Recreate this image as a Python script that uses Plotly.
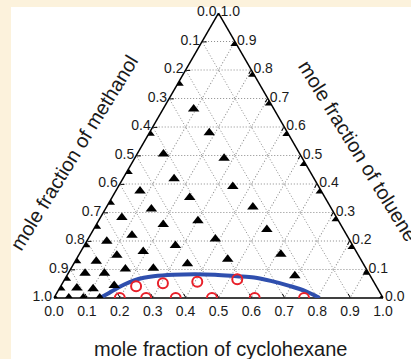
import plotly.graph_objects as go

W, H = 411, 359

# ---- data (mole fractions) ----
# black triangles: measured compositions
tri_methanol = [0.246, 0.422, 0.556, 0.664, 0.748, 0.813, 0.869, 0.931, 0.965, 1.000,
                0.000, 0.000, 0.000, 0.000, 0.000, 0.000, 0.000, 0.000, 0.000, 0.000, 0.000,
                0.955, 0.911, 0.861,
                0.244, 0.238, 0.415, 0.238, 0.426, 0.261, 0.551, 0.411, 0.236, 0.548,
                0.653, 0.427, 0.233, 0.539, 0.653, 0.406, 0.740, 0.539, 0.234, 0.404,
                0.648, 0.734, 0.807, 0.535, 0.229, 0.732, 0.863, 0.803, 0.913, 0.866,
                0.795, 0.646]
tri_toluene = [0.754, 0.578, 0.444, 0.336, 0.252, 0.187, 0.131, 0.069, 0.035, 0.000,
               1.000, 0.893, 0.785, 0.684, 0.577, 0.472, 0.375, 0.278, 0.181, 0.090, 0.000,
               0.000, 0.000, 0.000,
               0.663, 0.580, 0.506, 0.491, 0.418, 0.391, 0.375, 0.353, 0.319, 0.312,
               0.283, 0.271, 0.240, 0.258, 0.220, 0.207, 0.199, 0.184, 0.153, 0.136,
               0.163, 0.150, 0.129, 0.120, 0.078, 0.102, 0.087, 0.087, 0.035, 0.032,
               0.044, 0.104]
tri_cyclohexane = [0.000, 0.000, 0.000, 0.000, 0.000, 0.000, 0.000, 0.000, 0.000, 0.000,
                   0.000, 0.107, 0.215, 0.316, 0.423, 0.528, 0.625, 0.722, 0.819, 0.910, 1.000,
                   0.045, 0.089, 0.139,
                   0.093, 0.182, 0.080, 0.272, 0.156, 0.348, 0.074, 0.236, 0.445, 0.140,
                   0.065, 0.302, 0.527, 0.203, 0.127, 0.387, 0.061, 0.277, 0.613, 0.460,
                   0.190, 0.116, 0.064, 0.346, 0.693, 0.166, 0.051, 0.110, 0.052, 0.103,
                   0.161, 0.250]

# red open circles
circ_methanol = [0.80, 0.72, 0.63, 0.52, 0.39, 0.24, 0.730, 0.643, 0.536, 0.410]
circ_toluene = [0.00, 0.00, 0.00, 0.00, 0.00, 0.00, 0.041, 0.052, 0.057, 0.066]
circ_cyclohexane = [0.20, 0.28, 0.37, 0.48, 0.61, 0.76, 0.229, 0.305, 0.407, 0.524]

# blue binodal curve
curve_methanol = [0.8605, 0.8296, 0.8015, 0.7628, 0.7259, 0.6917, 0.6593, 0.5972,
                  0.5281, 0.4696, 0.4070, 0.3560, 0.3113, 0.2611, 0.2227, 0.1929]
curve_toluene = [0.0000, 0.0146, 0.0291, 0.0473, 0.0618, 0.0709, 0.0764, 0.0818,
                 0.0836, 0.0818, 0.0764, 0.0716, 0.0600, 0.0418, 0.0236, 0.0000]
curve_cyclohexane = [0.1395, 0.1559, 0.1694, 0.1899, 0.2123, 0.2374, 0.2643, 0.3210,
                     0.3883, 0.4486, 0.5166, 0.5724, 0.6287, 0.6971, 0.7537, 0.8071]

tick_vals = [0.0, 0.1, 0.2, 0.3, 0.4, 0.5, 0.6, 0.7, 0.8, 0.9, 1.0]
tick_text = ["1.0", "0.9", "0.8", "0.7", "0.6", "0.5", "0.4", "0.3", "0.2", "0.1", "0.0"]

title_left = "mole fraction of methanol"
title_right = "mole fraction of toluene"
title_bottom = "mole fraction of cyclohexane"

FONT = "Liberation Sans, Arial, sans-serif"

fig = go.Figure()
fig.add_trace(go.Scatterternary(
    a=curve_toluene, b=curve_methanol, c=curve_cyclohexane,
    mode="lines", line=dict(color="#2f4fae", width=4, shape="spline"),
    hoverinfo="skip"))
fig.add_trace(go.Scatterternary(
    a=tri_toluene, b=tri_methanol, c=tri_cyclohexane,
    mode="markers",
    marker=dict(symbol="triangle-up", size=10, color="black")))
fig.add_trace(go.Scatterternary(
    a=circ_toluene, b=circ_methanol, c=circ_cyclohexane,
    mode="markers",
    marker=dict(symbol="circle-open", size=10, color="#e8202a",
                line=dict(width=2, color="#e8202a"))))

axis_common = dict(
    tickvals=tick_vals, ticktext=tick_text,
    ticks="inside", ticklen=4, tickwidth=1, tickcolor="black",
    linecolor="black", linewidth=1.5,
    showgrid=True, gridcolor="#8a8a8a", gridwidth=1, griddash="1px,2px",
    tickfont=dict(family=FONT, size=14, color="#1a1a1a"),
    title=dict(text=""), layer="below traces", min=0,
)

# triangle geometry (pixels)
left, right, base_y, top_y = 54, 383, 298, 13

fig.update_layout(
    width=W, height=H,
    margin=dict(l=0, r=0, t=0, b=0),
    paper_bgcolor="#fcf2dc",
    showlegend=False,
    ternary=dict(
        sum=1,
        bgcolor="white",
        domain=dict(x=[left / W, right / W], y=[1 - base_y / H, 1 - top_y / H]),
        aaxis=axis_common, baxis=axis_common, caxis=axis_common,
    ),
    shapes=[dict(type="rect", xref="paper", yref="paper",
                 x0=11 / W, x1=1, y0=0, y1=1 - 7 / H,
                 fillcolor="white", line=dict(width=0), layer="below")],
    annotations=[
        dict(text=title_left, xref="paper", yref="paper",
             x=74 / W, y=1 - 153 / H, xanchor="center", yanchor="middle",
             showarrow=False, textangle=-58.4,
             font=dict(family=FONT, size=20, color="#1a1a1a")),
        dict(text=title_right, xref="paper", yref="paper",
             x=358 / W, y=1 - 151 / H, xanchor="center", yanchor="middle",
             showarrow=False, textangle=58.4,
             font=dict(family=FONT, size=20, color="#1a1a1a")),
        dict(text=title_bottom, xref="paper", yref="paper",
             x=220 / W, y=1 - 349 / H, xanchor="center", yanchor="middle",
             showarrow=False,
             font=dict(family=FONT, size=20, color="#1a1a1a")),
    ],
)

fig.write_html("out.html")
